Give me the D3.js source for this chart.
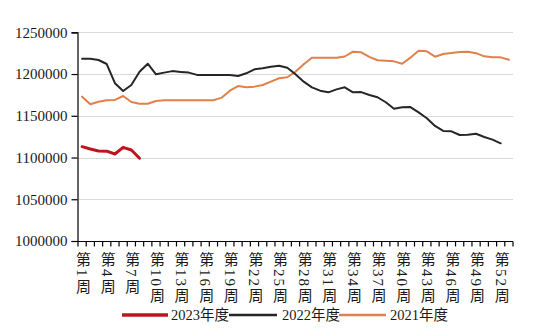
<!DOCTYPE html>
<html><head><meta charset="utf-8">
<script src="https://cdn.jsdelivr.net/npm/d3@7"></script>
<style>
html,body{margin:0;padding:0;background:#fff;}
svg{display:block;}
text{font-family:"Liberation Serif","Times New Roman","Noto Sans CJK SC",serif;fill:#1a1a1a;}
</style></head><body>
<script>
const weeks = d3.range(1, 54);
const labelWeeks = [1,4,7,10,13,16,19,22,25,28,31,34,37,40,43,46,49,52];
const yTicks = [1000000,1050000,1100000,1150000,1200000,1250000];
const seriesNames = ["2023年度","2022年度","2021年度"];
const seriesColors = ["#c0141c","#262626","#e0804a"];
const seriesWidths = [3,2,2];
const s2023 = [1113000,1110200,1107800,1107600,1104200,1112200,1109000,1099100];
const s2022 = [1218400,1218200,1216800,1212000,1189000,1179700,1186900,1202800,1212400,1199700,
  1201700,1203500,1202500,1201700,1199000,1199000,1199000,1199000,1198800,1197700,
  1200900,1205700,1206900,1208800,1210000,1207600,1199700,1190900,1184100,1180100,
  1178100,1181600,1184100,1178100,1178400,1174900,1172200,1166200,1158500,1160200,
  1160400,1154100,1147000,1137800,1131800,1131400,1127000,1127400,1128500,1124600,
  1121400,1117000];
const s2021 = [1172900,1163800,1166900,1168500,1169000,1173700,1166500,1164500,1164500,1167700,
  1168500,1168500,1168500,1168500,1168500,1168500,1168700,1171700,1180100,1185600,
  1184100,1184900,1186900,1190900,1194900,1196100,1202800,1211700,1219600,1219600,
  1219600,1219600,1221000,1226800,1226000,1220500,1216500,1215800,1215200,1212400,
  1219600,1228000,1227200,1220800,1224000,1225200,1226500,1226800,1225000,1221200,
  1220000,1220000,1217200];
const allSeries = [s2023, s2022, s2021];

const W = 550, H = 332;
const svg = d3.select("body").append("svg").attr("width", W).attr("height", H);

const x = d3.scaleBand().domain(weeks).range([78, 513]).padding(0);
const y = d3.scaleLinear().domain([1000000, 1250000]).range([241, 32.3]);

// gridlines
svg.append("g").selectAll("line").data(yTicks.slice(1)).join("line")
  .attr("x1", x.range()[0]).attr("x2", x.range()[1])
  .attr("y1", d => Math.round(y(d)) + 0.5).attr("y2", d => Math.round(y(d)) + 0.5)
  .attr("stroke", "#d9d9d9").attr("stroke-width", 1);

// y axis
const yAxis = svg.append("g").attr("transform", `translate(${x.range()[0] - 0.5},0)`)
  .call(d3.axisLeft(y).tickValues(yTicks).tickFormat(d3.format("d")).tickSize(6).tickPadding(4));
yAxis.select(".domain").attr("stroke", "#000").attr("stroke-width", 1.2);
yAxis.selectAll(".tick line").attr("stroke", "#000").attr("stroke-width", 1.2);
yAxis.selectAll(".tick text").attr("font-size", 15).attr("fill", "#1a1a1a")
  .attr("font-family", '"Liberation Serif","Times New Roman",serif');

// x axis line and ticks at band edges
const xAxisY = Math.round(y(1000000)) + 0.5;
const gx = svg.append("g");
gx.append("line").attr("x1", x.range()[0] - 1).attr("x2", x.range()[1])
  .attr("y1", xAxisY).attr("y2", xAxisY).attr("stroke", "#000").attr("stroke-width", 1.2);
const edges = weeks.map(w => x(w)).concat([x.range()[1]]);
gx.selectAll("line.t").data(edges).join("line").attr("class", "t")
  .attr("x1", d => d).attr("x2", d => d)
  .attr("y1", xAxisY).attr("y2", xAxisY + 5)
  .attr("stroke", "#000").attr("stroke-width", 1.2);
gx.selectAll("text").data(labelWeeks).join("text")
  .attr("x", d => x(d) + x.bandwidth() / 2)
  .attr("y", 252)
  .attr("font-size", 15)
  .style("writing-mode", "vertical-rl")
  .style("letter-spacing", "2px")
  .attr("font-family", '"Liberation Serif","Noto Sans CJK SC",serif')
  .text(d => `第${d}周`);

// lines
const line = d3.line().x((d, i) => x(weeks[i]) + x.bandwidth() / 2).y(d => y(d)).curve(d3.curveLinear);
[2, 1, 0].forEach(k => {
  svg.append("path").datum(allSeries[k]).attr("d", line)
    .attr("fill", "none").attr("stroke", seriesColors[k])
    .attr("stroke-width", seriesWidths[k]).attr("stroke-linejoin", "round").attr("stroke-linecap", "round");
});

// legend
const legendPos = [[122, 168, 171], [229, 277, 282], [339, 386, 390]];
const lg = svg.append("g");
seriesNames.forEach((n, k) => {
  const [a, b, t] = legendPos[k];
  lg.append("line").attr("x1", a).attr("x2", b).attr("y1", 315).attr("y2", 315)
    .attr("stroke", seriesColors[k]).attr("stroke-width", seriesWidths[k] + 0.5);
  lg.append("text").attr("x", t).attr("y", 320).attr("font-size", 14.5).text(n);
});
</script>
</body></html>
